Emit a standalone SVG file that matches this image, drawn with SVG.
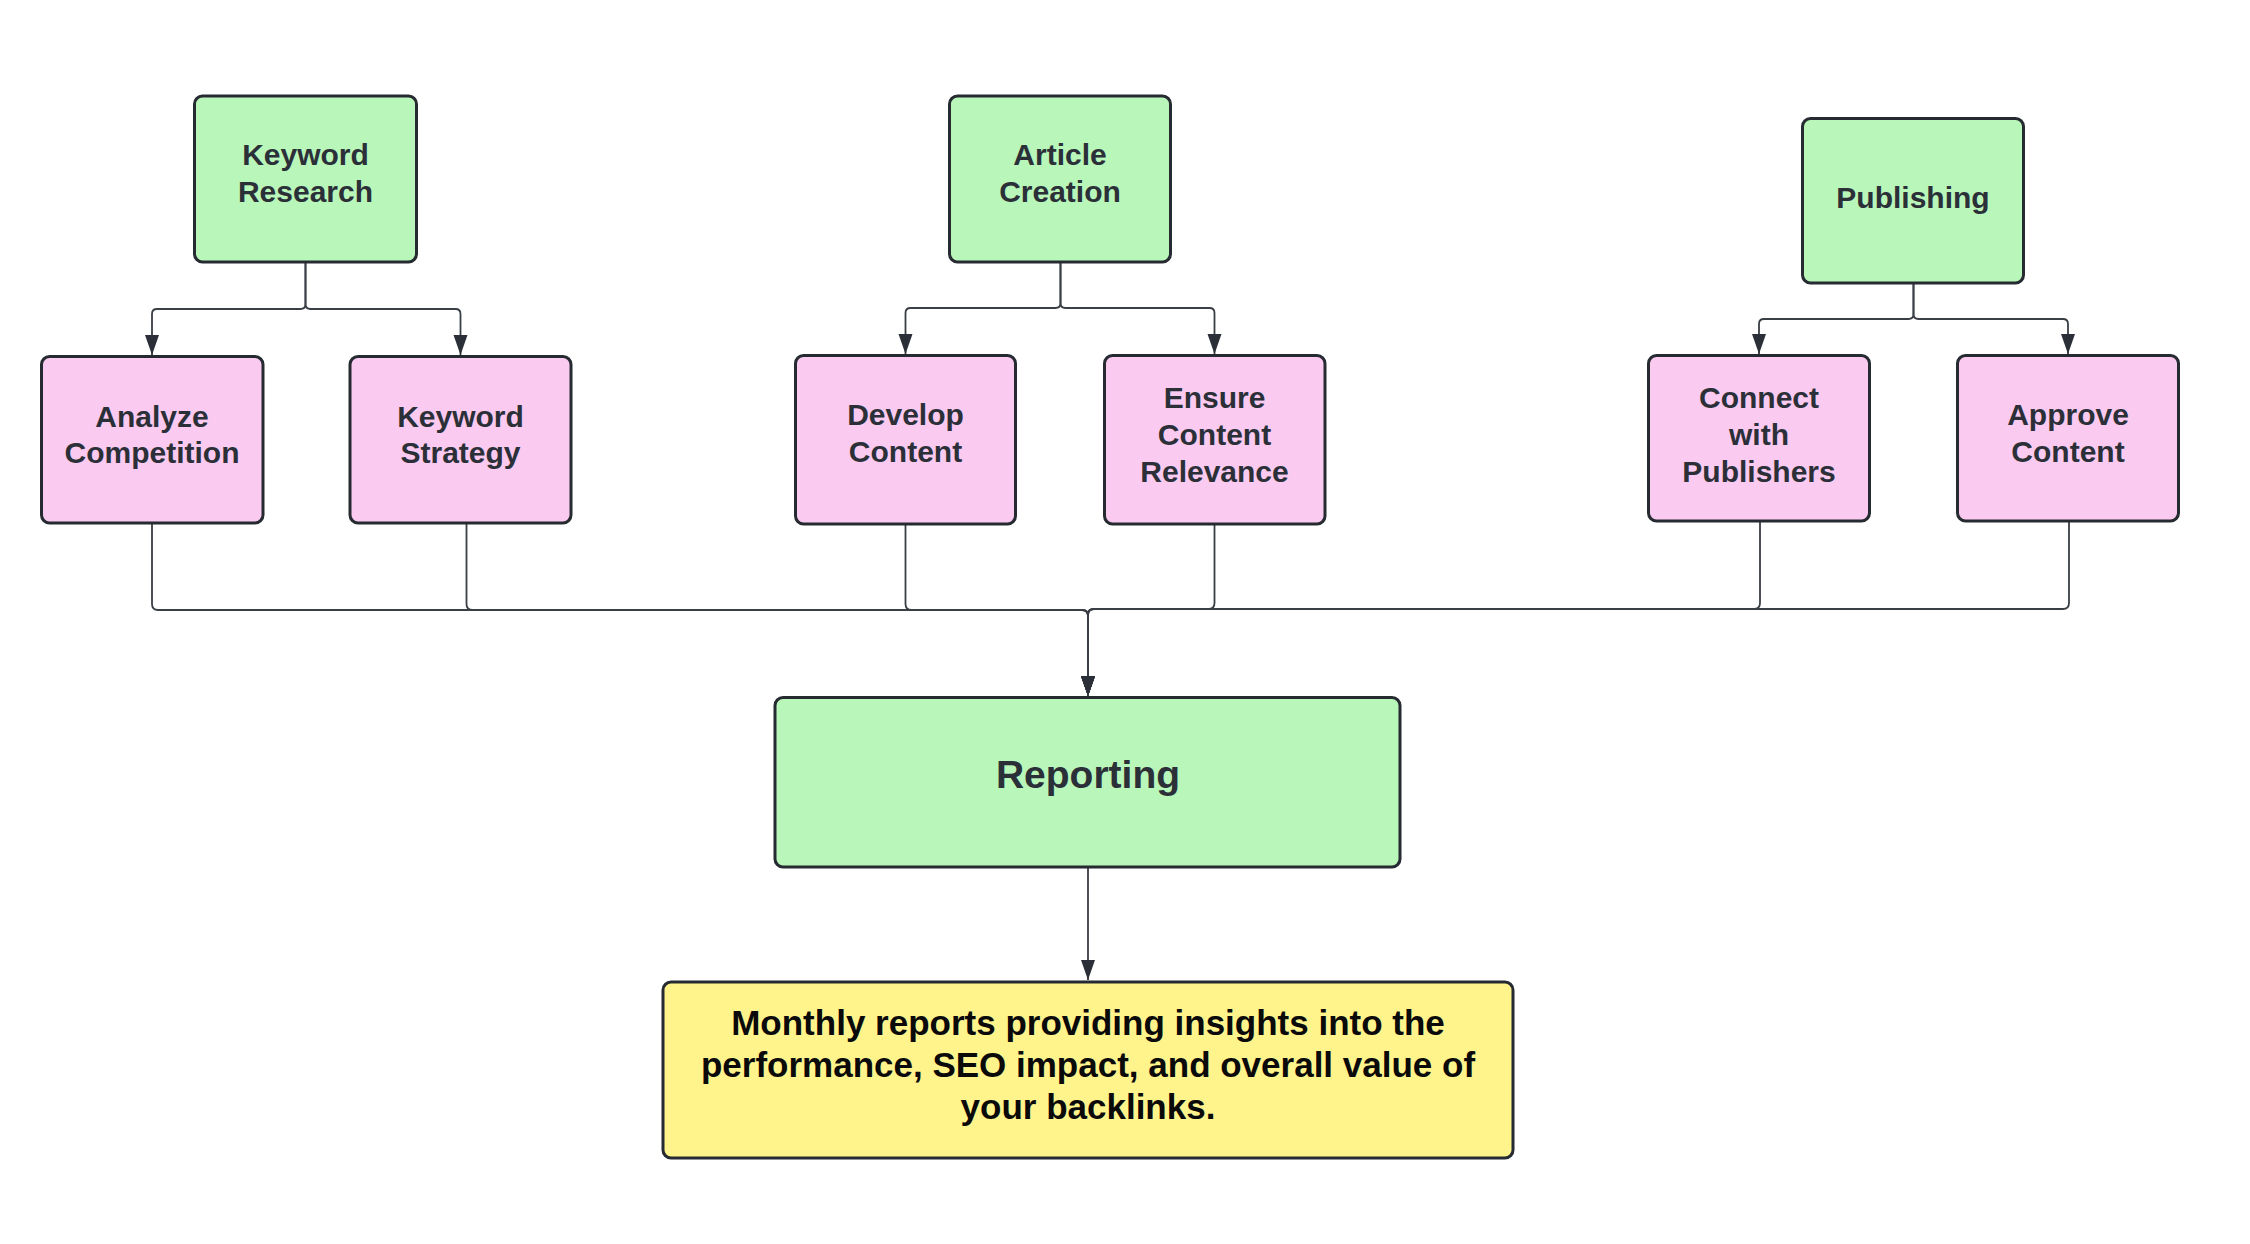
<svg xmlns="http://www.w3.org/2000/svg" width="2250" height="1244" viewBox="0 0 2250 1244">
<style>
.box{stroke:#262b31;stroke-width:3}
.g{fill:#b9f6ba}
.p{fill:#facaf0}
.y{fill:#fff48c}
.t{font-family:"Liberation Sans",Arial,sans-serif;font-weight:bold;font-size:30px;fill:#2b3038;text-anchor:middle}
.tr{font-size:39px}
.ty{font-size:35px;fill:#0a0a0a}
.c{fill:none;stroke:#3a3f45;stroke-width:1.8}
</style>
<defs>
<marker id="ah" markerUnits="userSpaceOnUse" markerWidth="22" markerHeight="16" refX="20" refY="7" orient="auto">
<path d="M0,0 L20,7 L0,14 z" fill="#2b3038"/>
</marker>
</defs>
<rect width="2250" height="1244" fill="#ffffff"/>
<g id="connectors">
<path class="c" marker-end="url(#ah)" d="M305.5,262 V304 Q305.5,309 300.5,309 H157 Q152,309 152,314 V355"/>
<path class="c" marker-end="url(#ah)" d="M305.5,262 V304 Q305.5,309 310.5,309 H455.5 Q460.5,309 460.5,314 V355"/>
<path class="c" marker-end="url(#ah)" d="M1060.5,262 V303 Q1060.5,308 1055.5,308 H910.5 Q905.5,308 905.5,313 V354"/>
<path class="c" marker-end="url(#ah)" d="M1060.5,262 V303 Q1060.5,308 1065.5,308 H1209.5 Q1214.5,308 1214.5,313 V354"/>
<path class="c" marker-end="url(#ah)" d="M1913.5,283 V314 Q1913.5,319 1908.5,319 H1764 Q1759,319 1759,324 V354"/>
<path class="c" marker-end="url(#ah)" d="M1913.5,283 V314 Q1913.5,319 1918.5,319 H2063 Q2068,319 2068,324 V354"/>
<path class="c" marker-end="url(#ah)" d="M152,523 V604 Q152,610 158,610 H1082 Q1088,610 1088,616 V696"/>
<path class="c" marker-end="url(#ah)" d="M466.5,523 V604 Q466.5,610 472.5,610 H1082 Q1088,610 1088,616 V696"/>
<path class="c" marker-end="url(#ah)" d="M905.5,524 V604 Q905.5,610 911.5,610 H1082 Q1088,610 1088,616 V696"/>
<path class="c" marker-end="url(#ah)" d="M1214.5,524 V603 Q1214.5,609 1208.5,609 H1094 Q1088,609 1088,615 V696"/>
<path class="c" marker-end="url(#ah)" d="M1760,521 V603 Q1760,609 1754,609 H1094 Q1088,609 1088,615 V696"/>
<path class="c" marker-end="url(#ah)" d="M2069,521 V603 Q2069,609 2063,609 H1094 Q1088,609 1088,615 V696"/>
<path class="c" marker-end="url(#ah)" d="M1088,867 V980"/>
</g>
<g id="keyword-research">
<rect class="box g" x="194.5" y="96" width="222" height="166" rx="8"/>
<text class="t" x="305.5" y="165">Keyword</text>
<text class="t" x="305.5" y="202">Research</text>
</g>
<g id="article-creation">
<rect class="box g" x="949.5" y="96" width="221" height="166" rx="8"/>
<text class="t" x="1060" y="165">Article</text>
<text class="t" x="1060" y="202">Creation</text>
</g>
<g id="publishing">
<rect class="box g" x="1802.5" y="118.5" width="221" height="164.5" rx="8"/>
<text class="t" x="1913" y="208">Publishing</text>
</g>
<g id="analyze-competition">
<rect class="box p" x="41.5" y="356.5" width="221.5" height="166.5" rx="8"/>
<text class="t" x="152" y="427">Analyze</text>
<text class="t" x="152" y="463">Competition</text>
</g>
<g id="keyword-strategy">
<rect class="box p" x="350" y="356.5" width="221" height="166.5" rx="8"/>
<text class="t" x="460.5" y="427">Keyword</text>
<text class="t" x="460.5" y="463">Strategy</text>
</g>
<g id="develop-content">
<rect class="box p" x="795.5" y="355.5" width="220" height="168.5" rx="8"/>
<text class="t" x="905.5" y="425">Develop</text>
<text class="t" x="905.5" y="462">Content</text>
</g>
<g id="ensure-content-relevance">
<rect class="box p" x="1104.5" y="355.5" width="220.5" height="168.5" rx="8"/>
<text class="t" x="1214.5" y="408">Ensure</text>
<text class="t" x="1214.5" y="445">Content</text>
<text class="t" x="1214.5" y="482">Relevance</text>
</g>
<g id="connect-with-publishers">
<rect class="box p" x="1648.5" y="355.5" width="221" height="165.5" rx="8"/>
<text class="t" x="1759" y="408">Connect</text>
<text class="t" x="1759" y="445">with</text>
<text class="t" x="1759" y="482">Publishers</text>
</g>
<g id="approve-content">
<rect class="box p" x="1957.5" y="355.5" width="221" height="165.5" rx="8"/>
<text class="t" x="2068" y="425">Approve</text>
<text class="t" x="2068" y="462">Content</text>
</g>
<g id="reporting">
<rect class="box g" x="775" y="697.5" width="625" height="169.5" rx="8"/>
<text class="t tr" x="1088" y="788">Reporting</text>
</g>
<g id="monthly-reports">
<rect class="box y" x="663" y="982" width="850" height="176" rx="8"/>
<text class="t ty" x="1088" y="1035">Monthly reports providing insights into the</text>
<text class="t ty" x="1088" y="1077">performance, SEO impact, and overall value of</text>
<text class="t ty" x="1088" y="1119">your backlinks.</text>
</g>
</svg>
